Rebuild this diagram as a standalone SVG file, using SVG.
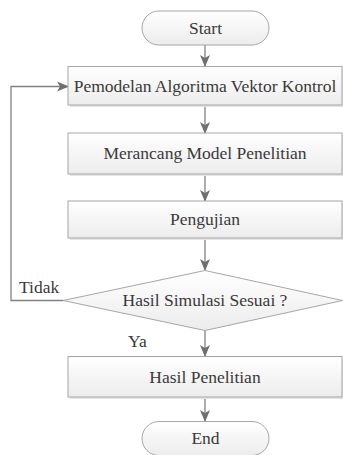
<svg xmlns="http://www.w3.org/2000/svg" width="343" height="455" viewBox="0 0 343 455">
<style>
.box{fill:url(#g);stroke:#a6a6a6;stroke-width:1}
.sh{fill:#e4e4e4;stroke:none}
text{font-family:'Liberation Serif','Times New Roman',serif;font-size:17.5px;fill:#3a3a3a}
.t{text-anchor:middle}
.c{fill:none;stroke:#808080;stroke-width:1.3}
</style>
<defs>
<linearGradient id="g" x1="0" y1="0" x2="0" y2="1">
<stop offset="0" stop-color="#ffffff"/>
<stop offset="1" stop-color="#ececec"/>
</linearGradient>
<marker id="a" markerUnits="userSpaceOnUse" markerWidth="12" markerHeight="12" viewBox="0 0 12 10" refX="11" refY="5" orient="auto">
<path d="M0,0 L12,5 L0,10 L3,5 z" fill="#6f6f6f"/>
</marker>
</defs>
<rect width="343" height="455" fill="#ffffff"/>
<g id="connectors">
<line class="c" x1="205" y1="45" x2="205" y2="66" marker-end="url(#a)"/>
<line class="c" x1="205" y1="105" x2="205" y2="133" marker-end="url(#a)"/>
<line class="c" x1="205" y1="174" x2="205" y2="201" marker-end="url(#a)"/>
<line class="c" x1="205" y1="238" x2="205" y2="270" marker-end="url(#a)"/>
<line class="c" x1="205" y1="331" x2="205" y2="356" marker-end="url(#a)"/>
<line class="c" x1="205" y1="397" x2="205" y2="421" marker-end="url(#a)"/>
<polyline class="c" points="63,300.5 11,300.5 11,86.5 68,86.5" marker-end="url(#a)"/>
<text x="19" y="293">Tidak</text>
<text x="128" y="347">Ya</text>
</g>
<g id="start">
<rect class="box" x="142" y="11" width="127" height="34" rx="17"/>
<text class="t" x="205.5" y="33.5">Start</text>
</g>
<g id="pemodelan">
<rect class="sh" x="70" y="68.5" width="274" height="38.5"/>
<rect class="box" x="68" y="66.5" width="274" height="38.5"/>
<text class="t" x="205" y="91.5">Pemodelan Algoritma Vektor Kontrol</text>
</g>
<g id="merancang">
<rect class="sh" x="70" y="135" width="274" height="41"/>
<rect class="box" x="68" y="133" width="274" height="41"/>
<text class="t" x="205" y="159">Merancang Model Penelitian</text>
</g>
<g id="pengujian">
<rect class="sh" x="70" y="203" width="274" height="37"/>
<rect class="box" x="68" y="201" width="274" height="37"/>
<text class="t" x="205" y="225">Pengujian</text>
</g>
<g id="keputusan">
<polygon class="box" points="205,270.5 342.5,300.5 205,330.5 63,300.5"/>
<text class="t" x="205" y="306">Hasil Simulasi Sesuai ?</text>
</g>
<g id="hasil">
<rect class="sh" x="70" y="358.5" width="274" height="40.5"/>
<rect class="box" x="68" y="356.5" width="274" height="40.5"/>
<text class="t" x="205" y="382.5">Hasil Penelitian</text>
</g>
<g id="end">
<rect class="box" x="142" y="421.5" width="127" height="34" rx="17"/>
<text class="t" x="205.5" y="444">End</text>
</g>
</svg>
